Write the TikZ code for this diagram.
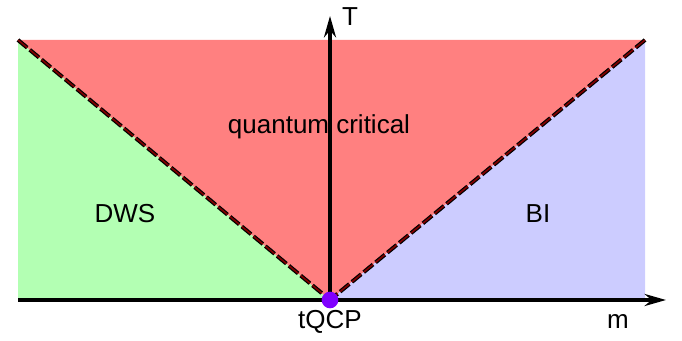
\documentclass[tikz,border=0pt]{standalone}
\usepackage{fontspec}
\setmainfont{Liberation Sans}
\usetikzlibrary{arrows.meta}
\definecolor{dwsgreen}{HTML}{B3FFB3}
\definecolor{qcred}{HTML}{FF8080}
\definecolor{biblue}{HTML}{CCCCFF}
\definecolor{qcpviolet}{HTML}{8000FF}
\definecolor{dashred}{HTML}{800000}
\begin{document}
\begin{tikzpicture}[x=0.75pt, y=-0.75pt, every node/.style={font=\fontsize{19.5}{23}\selectfont},
	crossover/.style={draw=black, line width=3pt, dash pattern=on 9pt off 2.5pt},
	crossinner/.style={draw=dashred, line width=1.2pt, dash pattern=on 9pt off 2.5pt},
	axis/.style={draw=black, line width=2.8pt, -{Stealth[length=16pt, width=9pt]}}]
				\useasboundingbox (0,0) rectangle (682,341);
				
				% Corners
				\coordinate (tl) at (18,40);
				\coordinate (tr) at (645,40);
				\coordinate (bl) at (18,300);
				\coordinate (br) at (645,300);
				\coordinate (qcp) at (330,300);
				\coordinate (mend) at (666,300);
				\coordinate (tend) at (330,16);
				
				% Regions
				\fill[dwsgreen] (tl) -- (qcp) -- (bl) -- cycle;
				\fill[qcred] (tl) -- (tr) -- (qcp) -- cycle;
				\fill[biblue] (tr) -- (br) -- (qcp) -- cycle;
				
				% Crossover lines
				\draw[crossover] (tl) -- (qcp);
				\draw[crossover] (tr) -- (qcp);
				\draw[crossinner] (tl) -- (qcp);
				\draw[crossinner] (tr) -- (qcp);
				
				% Axes
				\draw[axis] (bl) -- (mend);
				\draw[axis, line width=3.2pt] (qcp) -- (tend);
				
				% Critical point
				\node[
				circle,
				fill=qcpviolet,
				minimum size=12.5pt,
				inner sep=0pt
				] (tqcp) at (qcp) {};
				
				% Labels
				\node (tlabel) at (350,17) {T};
				\node (mlabel) at (618,322) {m};
				\node (tqcplabel) at (330,322) {tQCP};
				\node (dws) at (125,214) {DWS};
				\node (bi) at (538,214) {BI};
				\node (qc) at (319,127) {quantum critical};
			\end{tikzpicture}
\end{document}
